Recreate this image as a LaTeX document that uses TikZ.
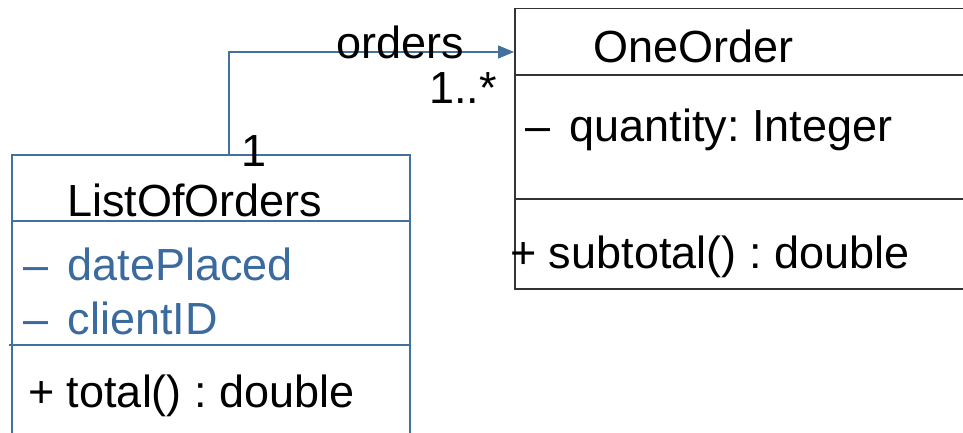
\documentclass[tikz,border=0pt]{standalone}
\usepackage{fontspec}
\setmainfont{Liberation Sans}
\usetikzlibrary{arrows.meta}
\definecolor{umlblue}{HTML}{41719C}
\definecolor{attrblue}{HTML}{3A6A9E}
\definecolor{umlgray}{HTML}{333333}
\newcommand{\vis}[1]{#1\kern7pt\ }
\frenchspacing
\begin{document}
\begin{tikzpicture}[x=1pt,y=-1pt,
  font=\fontsize{45}{54}\selectfont,
  classbox/.style={draw, line width=1.5pt, rectangle, inner sep=0pt, anchor=north west},
  txt/.style={anchor=base west, inner sep=0pt, text=black},
  assoc/.style={draw=umlblue, line width=1.5pt, -{Triangle[length=16pt,width=13pt]}}]
\useasboundingbox (0,0) rectangle (963,433);
\clip (0,0) rectangle (963,433);

% class OneOrder
\node[classbox, draw=umlgray, minimum width=460pt, minimum height=280pt] (oo) at (514,8) {};
\draw[umlgray, line width=1.5pt] (514,75) -- (975,75);
\draw[umlgray, line width=1.5pt] (514,199) -- (975,199);
\node[txt] (ooname) at (593,63) {OneOrder};
\node[txt] (ooattr) at (525,142) {\vis{–}quantity: Integer};
\node[txt] (ooop) at (510,268) {+ subtotal() : double};

% class ListOfOrders
\node[classbox, draw=umlblue, minimum width=398pt, minimum height=300pt] (lo) at (11,154) {};
\draw[umlblue, line width=1.5pt] (11,221) -- (409,221);
\draw[umlblue, line width=1.5pt] (9,345) -- (409,345);
\node[txt] (loname) at (67,216) {ListOfOrders};
\node[txt, text=attrblue] (loattr1) at (23,280) {\vis{–}datePlaced};
\node[txt, text=attrblue] (loattr2) at (23,334) {\vis{–}clientID};
\node[txt] (loop) at (28,407) {+ total() : double};

% association ListOfOrders -> OneOrder
\draw[assoc] ([xshift=218pt]lo.north west) |- ([yshift=-44pt]oo.north west);
\node[txt] (role) at (336,59) {orders};
\node[txt] (multmany) at (429,103) {1..*};
\node[txt] (multone) at (241,166) {1};
\end{tikzpicture}
\end{document}
